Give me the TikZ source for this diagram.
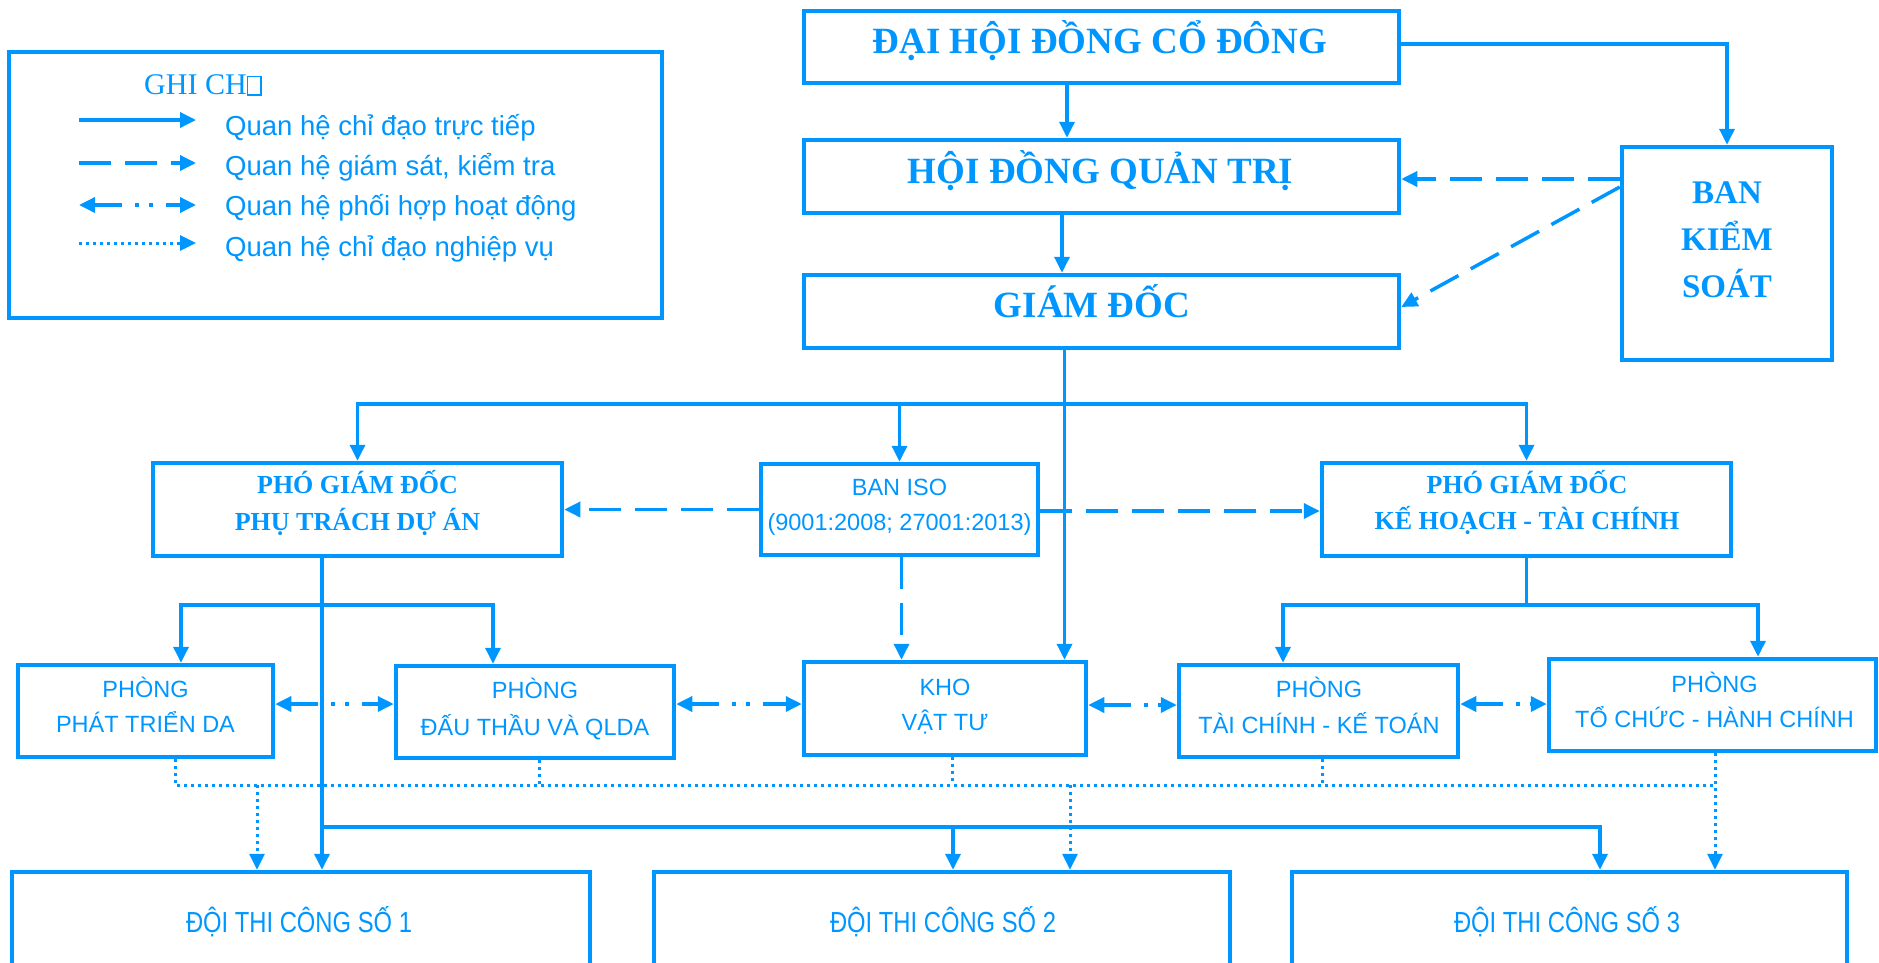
\documentclass[tikz,border=0pt]{standalone}
\usepackage{fontspec}
\setmainfont{Liberation Serif}
\newfontfamily\arialfont{Liberation Sans}
\newfontfamily\arialnarrow[FakeStretch=0.82]{Liberation Sans}
\usetikzlibrary{arrows.meta}
\definecolor{myblue}{RGB}{0,150,255}
\newcommand\missingglyph{{\fboxsep=0pt\fboxrule=1.5pt\fbox{\rule{0pt}{17pt}\hspace{12pt}}}}
\tikzset{
  box/.style={draw=myblue, line width=4.5pt, rectangle, inner sep=0pt},
  conn/.style={draw=myblue, line width=3.5pt},
  tip/.tip={Triangle[length=16pt,width=15pt]},
  arr/.style={conn, -tip},
  dasharr/.style={arr, dash pattern=on 32pt off 14pt},
  coordarr/.style={conn, tip-tip, dash pattern=on 28pt off 13pt on 4pt off 10pt on 4pt off 13pt},
  dotline/.style={conn, line width=3pt, dash pattern=on 3pt off 4pt},
  dotarr/.style={dotline, -tip},
  ttl/.style={text=myblue, inner sep=0pt, anchor=base, font=\bfseries\fontsize{37}{44}\selectfont},
  pgdt/.style={ttl, font=\bfseries\fontsize{26}{32}\selectfont},
  bkst/.style={ttl, font=\bfseries\fontsize{33}{40}\selectfont},
  sanst/.style={text=myblue, inner sep=0pt, anchor=base, font=\arialfont\fontsize{23.5}{28}\selectfont},
  doit/.style={sanst, font=\arialnarrow\fontsize{29}{34}\selectfont},
  legt/.style={sanst, anchor=base west, font=\arialfont\fontsize{27.5}{33}\selectfont},
  ghit/.style={text=myblue, inner sep=0pt, anchor=base west, font=\fontsize{30}{35}\selectfont},
}
\begin{document}
\begin{tikzpicture}[x=1pt,y=-1pt]
\useasboundingbox (0,0) rectangle (1879,962);
\clip (0,0) rectangle (1879,962);

% ---------- legend ----------
\node[box, minimum width=653pt, minimum height=266pt] (legend) at (335.5,185) {};
\node[ghit] (ghichu) at (144,94) {GHI CH\missingglyph};
\coordinate (la1) at (79,120);  \coordinate (lb1) at (196,120);
\coordinate (la2) at (79,163);  \coordinate (lb2) at (196,163);
\coordinate (la3) at (79,205);  \coordinate (lb3) at (196,205);
\coordinate (la4) at (79,243);  \coordinate (lb4) at (196,243);
\draw[arr] (la1) -- (lb1);
\draw[dasharr] (la2) -- (lb2);
\draw[coordarr] (la3) -- (lb3);
\draw[dotarr] (la4) -- (lb4);
\node[legt] (lt1) at (225,135) {Quan hệ chỉ đạo trực tiếp};
\node[legt] (lt2) at (225,175) {Quan hệ giám sát, kiểm tra};
\node[legt] (lt3) at (225,215) {Quan hệ phối hợp hoạt động};
\node[legt] (lt4) at (225,256) {Quan hệ chỉ đạo nghiệp vụ};

% ---------- boxes ----------
\node[box, minimum width=595pt, minimum height=72pt] (dhdcd) at (1101.5,47) {};
\node[box, minimum width=595pt, minimum height=73pt] (hdqt) at (1101.5,176.5) {};
\node[box, minimum width=595pt, minimum height=73pt] (gd) at (1101.5,311.5) {};
\node[box, minimum width=210pt, minimum height=213pt] (bks) at (1727,253.5) {};
\node[box, minimum width=409pt, minimum height=93pt] (pgdda) at (357.5,509.5) {};
\node[box, minimum width=277pt, minimum height=91pt] (iso) at (899.5,509.5) {};
\node[box, minimum width=409pt, minimum height=93pt] (pgdkh) at (1526.5,509.5) {};
\node[box, minimum width=255pt, minimum height=92pt] (ptda) at (145.5,711) {};
\node[box, minimum width=278pt, minimum height=92pt] (dt) at (535,712) {};
\node[box, minimum width=282pt, minimum height=93pt] (kho) at (945,708.5) {};
\node[box, minimum width=279pt, minimum height=92pt] (tckt) at (1318.5,711) {};
\node[box, minimum width=327pt, minimum height=92pt] (tchc) at (1712.5,705) {};
\node[box, minimum width=578pt, minimum height=128pt] (doi1) at (301,936) {};
\node[box, minimum width=576pt, minimum height=128pt] (doi2) at (942,936) {};
\node[box, minimum width=555pt, minimum height=128pt] (doi3) at (1569.5,936) {};

% ---------- texts ----------
\node[ttl] (t-dhdcd) at (1100,53) {ĐẠI HỘI ĐỒNG CỔ ĐÔNG};
\node[ttl] (t-hdqt) at (1100.5,183) {HỘI ĐỒNG QUẢN TRỊ};
\node[ttl] (t-gd) at (1092,317) {GIÁM ĐỐC};
\node[bkst] (t-bks1) at (1727,203) {BAN};
\node[bkst] (t-bks2) at (1727,250) {KIỂM};
\node[bkst] (t-bks3) at (1727,297) {SOÁT};
\node[pgdt] (t-pgdda1) at (357.5,493) {PHÓ GIÁM ĐỐC};
\node[pgdt] (t-pgdda2) at (357.5,530) {PHỤ TRÁCH DỰ ÁN};
\node[sanst] (t-iso1) at (899.5,495) {BAN ISO};
\node[sanst] (t-iso2) at (899.5,530) {(9001:2008; 27001:2013)};
\node[pgdt] (t-pgdkh1) at (1527,493) {PHÓ GIÁM ĐỐC};
\node[pgdt] (t-pgdkh2) at (1527,529) {KẾ HOẠCH - TÀI CHÍNH};
\node[sanst] (t-ptda1) at (145.5,697) {PHÒNG};
\node[sanst] (t-ptda2) at (145.5,732) {PHÁT TRIỂN DA};
\node[sanst] (t-dt1) at (535,698) {PHÒNG};
\node[sanst] (t-dt2) at (535,735) {ĐẤU THẦU VÀ QLDA};
\node[sanst] (t-kho1) at (945,695) {KHO};
\node[sanst] (t-kho2) at (945,730) {VẬT TƯ};
\node[sanst] (t-tckt1) at (1319,697) {PHÒNG};
\node[sanst] (t-tckt2) at (1319,733) {TÀI CHÍNH - KẾ TOÁN};
\node[sanst] (t-tchc1) at (1714.5,692) {PHÒNG};
\node[sanst] (t-tchc2) at (1714.5,727) {TỔ CHỨC - HÀNH CHÍNH};
\node[doit] (t-doi1) at (299,932) {ĐỘI THI CÔNG SỐ 1};
\node[doit] (t-doi2) at (943,932) {ĐỘI THI CÔNG SỐ 2};
\node[doit] (t-doi3) at (1567,932) {ĐỘI THI CÔNG SỐ 3};

% ---------- solid connectors ----------
\draw[arr] ([xshift=-34.5pt]dhdcd.south) -- ([xshift=-34.5pt]hdqt.north);
\draw[arr] ([xshift=-39.5pt]hdqt.south) -- ([xshift=-39.5pt]gd.north);
\draw[arr] ([yshift=3pt]dhdcd.east) -| (bks.north);
\draw[arr] ([xshift=-37pt]gd.south) -- ([xshift=-37pt]gd.south |- kho.north);
\coordinate (bus1) at (1064.5,404);
\draw[arr] (bus1) -| (pgdda.north);
\draw[arr] (bus1) -| (iso.north);
\draw[arr] (bus1) -| (pgdkh.north);
\draw[arr] ([xshift=-35.5pt]pgdda.south) -- ([xshift=-35.5pt]pgdda.south |- doi1.north);
\coordinate (bus2) at (322,605);
\draw[arr] (bus2) -| ([xshift=35.5pt]ptda.north);
\draw[arr] (bus2) -| ([xshift=-42pt]dt.north);
\coordinate (bus3) at (322,827);
\draw[arr] (bus3) -| ([xshift=11pt]doi2.north);
\draw[arr] (bus3) -| ([xshift=30.5pt]doi3.north);
\coordinate (bus4) at (1526.5,605);
\draw[conn] (pgdkh.south) -- (bus4);
\draw[arr] (bus4) -| ([xshift=-35.5pt]tckt.north);
\draw[arr] (bus4) -| ([xshift=45.5pt]tchc.north);

% ---------- dashed connectors ----------
\draw[dasharr] ([yshift=74.5pt]bks.west) -- ([yshift=74.5pt]bks.west -| hdqt.east);
\draw[dasharr] ([yshift=66.5pt]bks.west) -- ([yshift=4.5pt]gd.east);
\draw[dasharr] (iso.west) -- (iso.west -| pgdda.east);
\draw[dasharr] ([yshift=-1.5pt]iso.east) -- ([yshift=-1.5pt]iso.east -| pgdkh.west);
\draw[dasharr] ([xshift=2pt]iso.south) -- ([xshift=2pt]iso.south |- kho.north);

% ---------- coordination connectors ----------
\draw[coordarr] ([yshift=7pt]ptda.east) -- ([yshift=7pt]ptda.east -| dt.west);
\draw[coordarr] ([yshift=8pt]dt.east) -- ([yshift=8pt]dt.east -| kho.west);
\draw[coordarr] ([yshift=3.5pt]kho.east) -- ([yshift=3.5pt]kho.east -| tckt.west);
\draw[coordarr] ([yshift=7pt]tckt.east) -- ([yshift=7pt]tckt.east -| tchc.west);

% ---------- dotted connectors ----------
\coordinate (dl) at (175,785);
\coordinate (dr) at (1715,785);
\draw[dotline] ([xshift=29.5pt]ptda.south) -- (dl) -- (dr);
\draw[dotline] ([xshift=4pt]dt.south) -- ([xshift=4pt]dt.south |- dl);
\draw[dotline] ([xshift=7pt]kho.south) -- ([xshift=7pt]kho.south |- dl);
\draw[dotline] ([xshift=3.5pt]tckt.south) -- ([xshift=3.5pt]tckt.south |- dl);
\draw[dotarr] ([xshift=2.5pt]tchc.south) -- ([xshift=2.5pt]tchc.south |- doi3.north);
\coordinate (d1) at (257,785);
\coordinate (d2) at (1070,785);
\draw[dotarr] (d1) -- (d1 |- doi1.north);
\draw[dotarr] (d2) -- (d2 |- doi2.north);
\end{tikzpicture}
\end{document}
